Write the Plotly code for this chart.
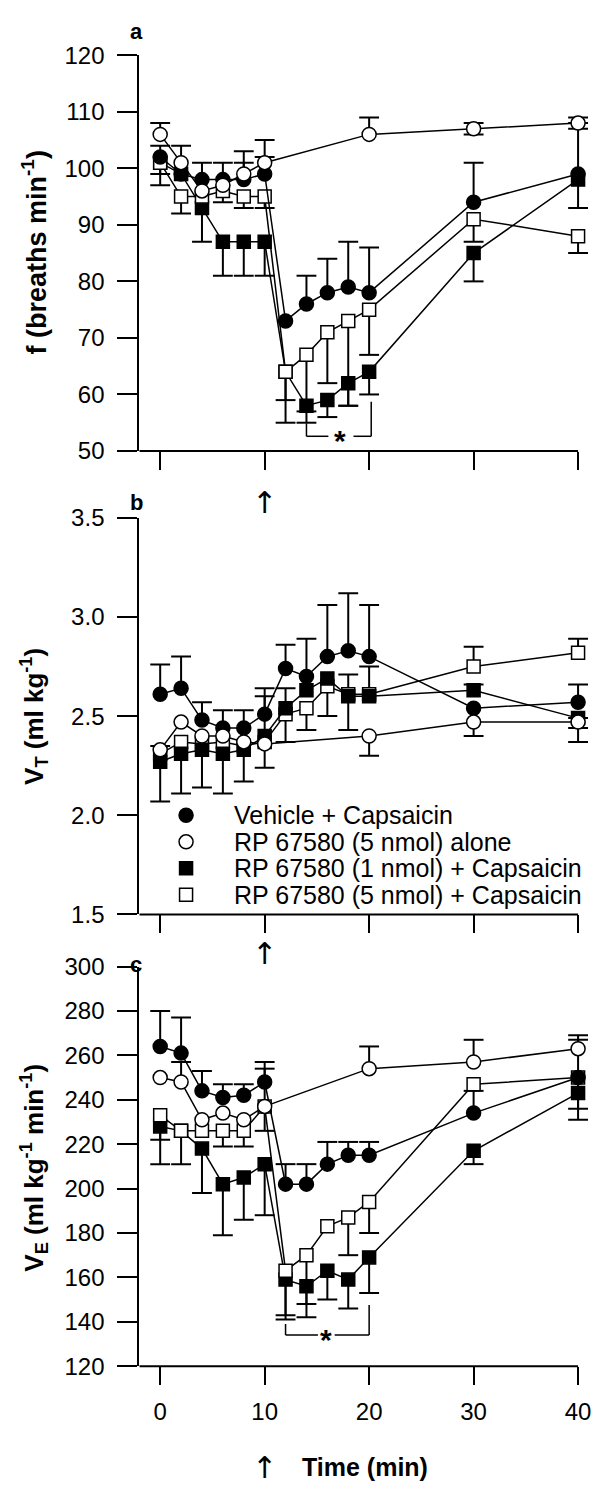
import plotly.graph_objects as go

W, H = 597, 1499

# ---------------- data ----------------
time = [0, 2, 4, 6, 8, 10, 12, 14, 16, 18, 20, 30, 40]
time_alone = [0, 2, 4, 6, 8, 10, 20, 30, 40]

legend_labels = ["Vehicle + Capsaicin", "RP 67580 (5 nmol) alone",
                 "RP 67580 (1 nmol) + Capsaicin", "RP 67580 (5 nmol) + Capsaicin"]

x_ticks = [0, 10, 20, 30, 40]
f_ticks = [50, 60, 70, 80, 90, 100, 110, 120]
vt_ticks = [1.5, 2.0, 2.5, 3.0, 3.5]
ve_ticks = [120, 140, 160, 180, 200, 220, 240, 260, 280, 300]

# panel a : f (breaths min-1)
f_veh = [102, 99, 98, 98, 98, 99, 73, 76, 78, 79, 78, 94, 99]
f_veh_up = [2, 5, 3, 3, 3, 3, 0, 5, 6, 8, 8, 7, 9]
f_veh_dn = [3, 0, 0, 0, 0, 0, 0, 0, 0, 0, 0, 0, 0]
f_alone = [106, 101, 96, 97, 99, 101, 106, 107, 108]
f_alone_up = [2, 0, 0, 0, 4, 4, 3, 1, 1]
f_alone_dn = [0, 0, 0, 3, 0, 0, 0, 1, 1]
f_rp1 = [101, 99, 93, 87, 87, 87, 64, 58, 59, 62, 64, 85, 98]
f_rp1_up = [0, 0, 0, 0, 0, 0, 0, 0, 0, 0, 0, 0, 0]
f_rp1_dn = [4, 0, 6, 6, 6, 6, 9, 3, 3, 4, 4, 5, 5]
f_rp5 = [101, 95, 95, 96, 95, 95, 64, 67, 71, 73, 75, 91, 88]
f_rp5_up = [0, 0, 0, 0, 0, 0, 0, 0, 0, 0, 0, 0, 0]
f_rp5_dn = [0, 3, 0, 0, 2, 2, 5, 10, 9, 15, 8, 4, 3]

# panel b : VT (ml kg-1)
vt_veh = [2.61, 2.64, 2.48, 2.44, 2.44, 2.51, 2.74, 2.70, 2.80, 2.83, 2.80, 2.54, 2.57]
vt_veh_up = [0.15, 0.16, 0.09, 0.09, 0.09, 0.13, 0.12, 0.19, 0.26, 0.29, 0.26, 0, 0.09]
vt_veh_dn = [0, 0, 0, 0, 0, 0, 0, 0, 0, 0, 0, 0, 0]
vt_alone = [2.33, 2.47, 2.40, 2.40, 2.37, 2.36, 2.40, 2.47, 2.47]
vt_alone_up = [0, 0, 0, 0, 0, 0, 0, 0, 0.02]
vt_alone_dn = [0, 0, 0, 0, 0, 0.12, 0.10, 0.07, 0.03]
vt_rp1 = [2.27, 2.31, 2.33, 2.31, 2.33, 2.40, 2.54, 2.63, 2.69, 2.60, 2.60, 2.63, 2.49]
vt_rp1_up = [0, 0, 0, 0, 0, 0.20, 0.10, 0, 0, 0.11, 0.15, 0.03, 0]
vt_rp1_dn = [0.20, 0.20, 0.19, 0.20, 0.16, 0, 0.17, 0, 0, 0.17, 0, 0, 0.12]
vt_rp5 = [2.31, 2.37, 2.36, 2.37, 2.35, 2.37, 2.51, 2.54, 2.65, 2.61, 2.61, 2.75, 2.82]
vt_rp5_up = [0.04, 0, 0, 0, 0, 0, 0, 0, 0, 0, 0, 0.10, 0.07]
vt_rp5_dn = [0, 0, 0, 0, 0, 0, 0, 0.11, 0.15, 0, 0, 0, 0]

# panel c : VE (ml kg-1 min-1)
ve_veh = [264, 261, 244, 241, 242, 248, 202, 202, 211, 215, 215, 234, 250]
ve_veh_up = [16, 16, 9, 6, 5, 9, 9, 9, 10, 6, 6, 10, 0]
ve_veh_dn = [0, 0, 0, 0, 0, 0, 0, 0, 0, 0, 0, 0, 14]
ve_alone = [250, 248, 231, 234, 231, 237, 254, 257, 263]
ve_alone_up = [0, 9, 0, 0, 0, 17, 10, 10, 6]
ve_alone_dn = [0, 0, 0, 0, 0, 11, 0, 0, 0]
ve_rp1 = [228, 226, 218, 202, 205, 211, 159, 156, 163, 159, 169, 217, 243]
ve_rp1_up = [0, 0, 0, 0, 0, 0, 0, 0, 0, 0, 0, 0, 0]
ve_rp1_dn = [17, 15, 20, 23, 19, 23, 18, 14, 13, 13, 16, 6, 12]
ve_rp5 = [233, 226, 226, 226, 226, 237, 163, 170, 183, 187, 194, 247, 250]
ve_rp5_up = [0, 0, 0, 0, 0, 0, 0, 0, 0, 0, 0, 0, 17]
ve_rp5_dn = [11, 0, 0, 7, 7, 0, 20, 22, 0, 17, 14, 0, 0]

# ---------------- layout helpers ----------------
FONT = "Liberation Sans, Arial, Helvetica, sans-serif"
X0_PIX, PX_PER_MIN = 140, 10.5
X_RANGE = [-2, 41]
panels_pix = {"a": (42, 445), "b": (513, 917), "c": (970, 1377)}


def px(p):
    return p / W


def py(p):
    return 1 - p / H


x_dom = [px(X0_PIX), px(X0_PIX + (X_RANGE[1] - X_RANGE[0]) * PX_PER_MIN)]

styles = {
    "veh": dict(symbol="circle", color="black", size=14),
    "alone": dict(symbol="circle", color="white", size=14),
    "rp1": dict(symbol="square", color="black", size=13),
    "rp5": dict(symbol="square", color="white", size=13),
}

fig = go.Figure()
CAP = 0.95  # half width of error caps in minutes


def err_xy(xs, ys, up, dn):
    ex, ey = [], []
    for x, y, u, d in zip(xs, ys, up, dn):
        if u > 0:
            ex += [x, x, None, x - CAP, x + CAP, None]
            ey += [y, y + u, None, y + u, y + u, None]
        if d > 0:
            ex += [x, x, None, x - CAP, x + CAP, None]
            ey += [y, y - d, None, y - d, y - d, None]
    return ex, ey


panel_series = [
    ("", "", [("rp1", time, f_rp1, f_rp1_up, f_rp1_dn),
              ("rp5", time, f_rp5, f_rp5_up, f_rp5_dn),
              ("veh", time, f_veh, f_veh_up, f_veh_dn),
              ("alone", time_alone, f_alone, f_alone_up, f_alone_dn)]),
    ("2", "2", [("rp5", time, vt_rp5, vt_rp5_up, vt_rp5_dn),
                ("rp1", time, vt_rp1, vt_rp1_up, vt_rp1_dn),
                ("veh", time, vt_veh, vt_veh_up, vt_veh_dn),
                ("alone", time_alone, vt_alone, vt_alone_up, vt_alone_dn)]),
    ("3", "3", [("rp1", time, ve_rp1, ve_rp1_up, ve_rp1_dn),
                ("rp5", time, ve_rp5, ve_rp5_up, ve_rp5_dn),
                ("veh", time, ve_veh, ve_veh_up, ve_veh_dn),
                ("alone", time_alone, ve_alone, ve_alone_up, ve_alone_dn)]),
]

for xs_id, ys_id, series in panel_series:
    xa, ya = "x" + xs_id, "y" + ys_id
    # error bars first
    for key, xs, ys, up, dn in series:
        ex, ey = err_xy(xs, ys, up, dn)
        fig.add_trace(go.Scatter(x=ex, y=ey, mode="lines", xaxis=xa, yaxis=ya,
                                 line=dict(color="black", width=2),
                                 showlegend=False, hoverinfo="skip"))
    for key, xs, ys, up, dn in series:
        st = styles[key]
        fig.add_trace(go.Scatter(
            x=xs, y=ys, mode="lines+markers", xaxis=xa, yaxis=ya,
            line=dict(color="black", width=1.5),
            marker=dict(symbol=st["symbol"], size=st["size"], color=st["color"],
                        line=dict(color="black", width=1.5)),
            cliponaxis=False, showlegend=False))

axis_common = dict(showgrid=False, zeroline=False, linecolor="black", linewidth=2,
                   ticks="outside", tickcolor="black", tickwidth=2,
                   tickfont=dict(family=FONT, size=24, color="black"))

layout = dict(width=W, height=H, margin=dict(l=0, r=0, t=0, b=0),
              paper_bgcolor="white", plot_bgcolor="white", showlegend=False,
              font=dict(family=FONT, color="black"))

yinfo = {"a": ("yaxis", [50, 120], f_ticks, None),
         "b": ("yaxis2", [1.5, 3.5], vt_ticks, ".1f"),
         "c": ("yaxis3", [120, 300], ve_ticks, None)}
xnames = {"a": ("xaxis", "y"), "b": ("xaxis2", "y2"), "c": ("xaxis3", "y3")}

for p, (top, bot) in panels_pix.items():
    dom = [py(bot), py(top)]
    yname, yr, yt, fmt = yinfo[p]
    xname, anchor = xnames[p]
    yd = dict(axis_common, domain=dom, range=yr, tickvals=yt, showline=True,
              ticklen=20, ticklabelstandoff=8, anchor=xname.replace("axis", ""))
    if fmt:
        yd["tickformat"] = fmt
    layout[yname] = yd
    layout[xname] = dict(axis_common, domain=x_dom, range=X_RANGE, tickvals=x_ticks,
                         showline=False, ticklen=18, anchor=anchor,
                         showticklabels=(p == "c"), ticklabelstandoff=6)

fig.update_layout(**layout)

# x axis base lines (end at 40 like the original)
for xr, yr in [("x", "y"), ("x2", "y2"), ("x3", "y3")]:
    fig.add_shape(type="line", xref=xr, yref=yr + " domain", x0=X_RANGE[0], x1=x_ticks[-1],
                  y0=0, y1=0, line=dict(color="black", width=2))


# significance brackets
def bracket(xr, yr, x_left, x_right, y_line, y_left_top, y_right_top, gap):
    segs = [(x_left, y_left_top, x_left, y_line), (x_left, y_line, gap[0], y_line),
            (gap[1], y_line, x_right, y_line), (x_right, y_line, x_right, y_right_top)]
    for a0, b0, a1, b1 in segs:
        fig.add_shape(type="line", xref=xr, yref=yr, x0=a0, y0=b0, x1=a1, y1=b1,
                      line=dict(color="black", width=1.5))


bracket("x", "y", 14, 20.2, 52.6, 54.9, 58.7, (16.1, 18.5))
bracket("x3", "y3", 12, 20, 134, 139, 147.6, (15.1, 16.7))


def text(x, y, s, size, xref="paper", yref="paper", bold=False, family=FONT, **kw):
    fig.add_annotation(x=x, y=y, xref=xref, yref=yref, text=("<b>%s</b>" % s) if bold else s,
                       showarrow=False, xanchor=kw.pop("xanchor", "center"),
                       yanchor=kw.pop("yanchor", "middle"),
                       font=dict(family=family, size=size, color="black"), **kw)


text(17.2, 52.6, "*", 30, xref="x", yref="y", bold=True, yshift=-4)
text(15.9, 134, "*", 30, xref="x3", yref="y3", bold=True, yshift=-4)

# panel letters
for letter, ypix in [("a", 18), ("b", 497), ("c", 968)]:
    text(px(137), py(ypix), letter, 22, bold=True)

# y axis titles
ytitles = [("f (breaths min<sup>-1</sup>)", 243, 27),
           ("V<sub>T</sub> (ml kg<sup>-1</sup>)", 715, 26),
           ("V<sub>E</sub> (ml kg<sup>-1</sup> min<sup>-1</sup>)", 1175, 26)]
for txt, ypix, fs in ytitles:
    text(px(34), py(ypix), txt, fs, bold=True, textangle=-90)

# arrows marking capsaicin injection at t = 10
for xr, ypix in [("x", 497), ("x2", 957), ("x3", 1480)]:
    text(10, py(ypix), "\u2191", 30, xref=xr, family="DejaVu Sans")

# x axis title
text(px(367), py(1480), "Time (min)", 25, bold=True)

# legend (inside panel b)
legend_rows = [816, 843, 870, 897]
for key, label, ypix in zip(["veh", "alone", "rp1", "rp5"], legend_labels, legend_rows):
    st = styles[key]
    r = st["size"] / 2
    fig.add_shape(type="circle" if st["symbol"] == "circle" else "rect",
                  xref="paper", yref="paper", xsizemode="pixel", ysizemode="pixel",
                  xanchor=px(187), yanchor=py(ypix), x0=-r, x1=r, y0=-r, y1=r,
                  fillcolor=st["color"], line=dict(color="black", width=1.5))
    text(px(233), py(ypix), label, 25, xanchor="left")

fig.write_html("out.html", config={"displayModeBar": False},
               post_script="document.body.style.margin='0';")
